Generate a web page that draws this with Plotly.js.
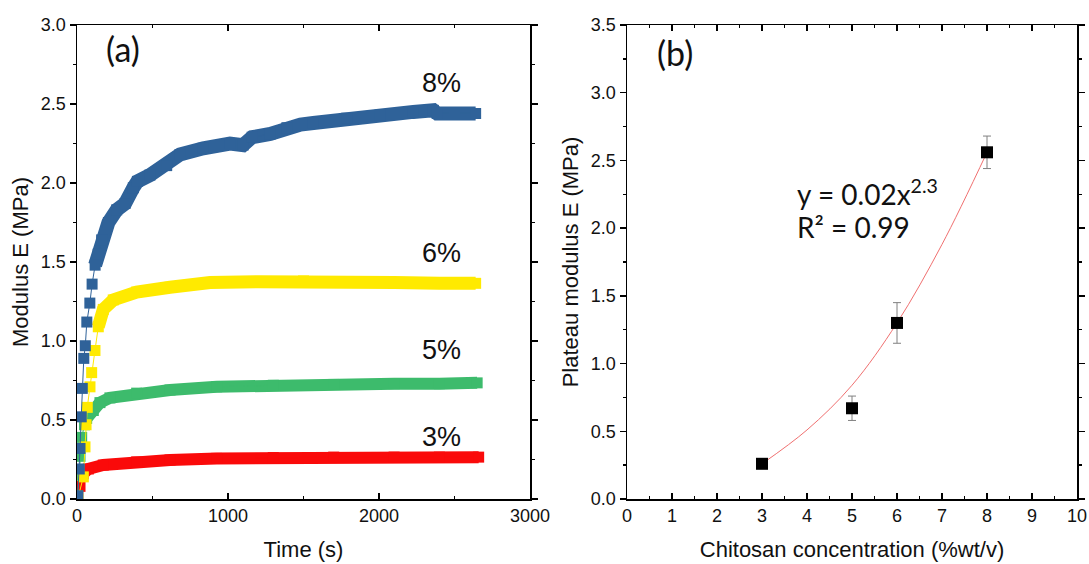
<!DOCTYPE html>
<html>
<head>
<meta charset="utf-8">
<script src="https://cdn.plot.ly/plotly-3.0.1.min.js"></script>
<style>html,body{margin:0;padding:0;background:#fff}#chart{width:1089px;height:564px}</style>
</head>
<body>
<div id="chart"></div>
<script>
// ---- Panel (a): modulus E (MPa) vs time (s) ----
const t8 = [5, 15, 20, 28, 35, 45, 55, 65, 85, 100, 120, 140, 163, 208, 263, 318, 373, 400, 483, 594, 682, 836, 1013, 1100, 1160, 1280, 1390, 1480, 1565, 1786, 2007, 2227, 2360, 2385, 2500, 2640];
const E8 = [0.02, 0.19, 0.32, 0.52, 0.70, 0.89, 0.97, 1.12, 1.24, 1.36, 1.48, 1.55, 1.64, 1.75, 1.83, 1.87, 1.97, 2.01, 2.05, 2.11, 2.18, 2.22, 2.25, 2.24, 2.29, 2.31, 2.35, 2.37, 2.38, 2.41, 2.43, 2.45, 2.46, 2.44, 2.44, 2.44];

const t6 = [5, 42, 53, 60, 68, 86, 97, 119, 141, 174, 240, 395, 616, 881, 1200, 1500, 1800, 2100, 2400, 2640];
const E6 = [0.0, 0.14, 0.33, 0.47, 0.58, 0.71, 0.80, 0.94, 1.09, 1.20, 1.26, 1.31, 1.34, 1.37, 1.375, 1.38, 1.375, 1.37, 1.365, 1.365];

const t5 = [5, 15, 20, 31, 50, 64, 108, 152, 218, 395, 616, 925, 1300, 1700, 2100, 2400, 2650];
const E5 = [0.02, 0.15, 0.27, 0.39, 0.47, 0.51, 0.56, 0.61, 0.64, 0.67, 0.69, 0.71, 0.72, 0.725, 0.73, 0.73, 0.735];

const t3 = [5, 20, 42, 75, 174, 395, 616, 925, 1300, 1700, 2100, 2400, 2660];
const E3 = [0.03, 0.08, 0.16, 0.19, 0.215, 0.235, 0.247, 0.257, 0.262, 0.265, 0.265, 0.265, 0.265];

const seriesLabels = ["8%", "6%", "5%", "3%"];

// ---- Panel (b): plateau modulus vs chitosan concentration ----
const conc = [3, 5, 6, 8];
const plateauE = [0.26, 0.67, 1.30, 2.56];
const plateauErr = [0.02, 0.09, 0.15, 0.12];
const fitConc = [3, 4, 5, 6, 7, 8];
const fitE = [0.26, 0.51, 0.84, 1.30, 1.88, 2.56];

const colors = {"8%": "#2F6299", "6%": "#FFEA00", "5%": "#3DBB6C", "3%": "#FA0A0A"};

function series(t, E, col, bandStart, bandW) {
  return [
    {x: t.slice(bandStart), y: E.slice(bandStart), type: 'scatter', mode: 'lines',
     line: {color: col, width: bandW}, xaxis: 'x', yaxis: 'y', hoverinfo: 'skip'},
    {x: t, y: E, type: 'scatter', mode: 'lines+markers',
     line: {color: col, width: 1},
     marker: {symbol: 'square', size: 11, color: col},
     xaxis: 'x', yaxis: 'y'}
  ];
}

const traces = [].concat(
  series(t3, E3, colors["3%"], 2, 12),
  series(t5, E5, colors["5%"], 5, 12),
  series(t6, E6, colors["6%"], 8, 13),
  series(t8, E8, colors["8%"], 10, 14),
  [
    {x: fitConc, y: fitE, type: 'scatter', mode: 'lines', line: {color: '#F07070', width: 1, shape: 'spline'},
     xaxis: 'x2', yaxis: 'y2'},
    {x: conc, y: plateauE, type: 'scatter', mode: 'markers',
     marker: {symbol: 'square', size: 12, color: '#000'},
     error_y: {type: 'data', array: plateauErr, visible: true, color: '#808080', thickness: 1, width: 4},
     xaxis: 'x2', yaxis: 'y2'}
  ]
);

const tickFont = {family: 'Liberation Sans, Arial, sans-serif', size: 18, color: '#111'};
const titleFont = {family: 'Liberation Sans, Arial, sans-serif', size: 22, color: '#111'};

function xax(domain, range, dtick, minor, title) {
  return {domain: domain, range: range, dtick: dtick, tick0: 0, showgrid: false, zeroline: false,
    showline: true, linecolor: '#000', linewidth: 1.5, mirror: 'allticks',
    ticks: 'inside', ticklen: 6, tickwidth: 1.3, tickcolor: '#000',
    minor: {dtick: minor, ticks: 'inside', ticklen: 3, tickwidth: 1.3, tickcolor: '#000'},
    tickfont: tickFont, automargin: false,
    title: {text: title, font: titleFont, standoff: 16}};
}
function yax(domain, range, anchor, title) {
  return {domain: domain, range: range, dtick: 0.5, tick0: 0, tickformat: '.1f', anchor: anchor,
    showgrid: false, zeroline: false,
    showline: true, linecolor: '#000', linewidth: 1.5, mirror: 'allticks',
    ticks: 'outside', ticklen: 6, tickwidth: 1.3, tickcolor: '#000',
    minor: {dtick: 0.25, ticks: 'outside', ticklen: 3, tickwidth: 1.3, tickcolor: '#000'},
    tickfont: tickFont, automargin: false,
    title: {text: title, font: titleFont, standoff: 6}};
}

const yDom = [65/564, 539/564];
const layout = {
  width: 1089, height: 564,
  margin: {l: 0, r: 0, t: 0, b: 0},
  paper_bgcolor: '#fff', plot_bgcolor: '#fff',
  showlegend: false,
  xaxis: Object.assign(xax([77/1089, 530/1089], [0, 3000], 1000, 500, 'Time (s)'), {anchor: 'y'}),
  yaxis: yax(yDom, [0, 3], 'x', 'Modulus E (MPa)'),
  xaxis2: Object.assign(xax([627/1089, 1077/1089], [0, 10], 1, 0.5, 'Chitosan concentration (%wt/v)'), {anchor: 'y2'}),
  yaxis2: yax(yDom, [0, 3.5], 'x2', 'Plateau modulus E (MPa)'),
  annotations: [
    {text: '(a)', x: 305, y: 2.85, xref: 'x', yref: 'y', showarrow: false, font: {family: 'Lato, sans-serif', size: 34, color: '#111'}},
    {text: '(b)', x: 1.07, y: 3.30, xref: 'x2', yref: 'y2', showarrow: false, font: {family: 'Lato, sans-serif', size: 34, color: '#111'}},
    {text: seriesLabels[0], x: 2417, y: 2.63, xref: 'x', yref: 'y', showarrow: false, font: {family: 'Liberation Sans, Arial, sans-serif', size: 27, color: '#111'}},
    {text: seriesLabels[1], x: 2417, y: 1.56, xref: 'x', yref: 'y', showarrow: false, font: {family: 'Liberation Sans, Arial, sans-serif', size: 27, color: '#111'}},
    {text: seriesLabels[2], x: 2417, y: 0.94, xref: 'x', yref: 'y', showarrow: false, font: {family: 'Liberation Sans, Arial, sans-serif', size: 27, color: '#111'}},
    {text: seriesLabels[3], x: 2417, y: 0.39, xref: 'x', yref: 'y', showarrow: false, font: {family: 'Liberation Sans, Arial, sans-serif', size: 27, color: '#111'}},
    {text: 'y = 0.02x<sup>2.3</sup>', x: 3.73, y: 2.26, xref: 'x2', yref: 'y2', xanchor: 'left', showarrow: false, font: {family: 'Lato, sans-serif', size: 28, color: '#111'}},
    {text: 'R² = 0.99', x: 3.73, y: 2.01, xref: 'x2', yref: 'y2', xanchor: 'left', showarrow: false, font: {family: 'Lato, sans-serif', size: 28, color: '#111'}}
  ]
};

Plotly.newPlot('chart', traces, layout, {displayModeBar: false, staticPlot: true});
</script>
</body>
</html>
